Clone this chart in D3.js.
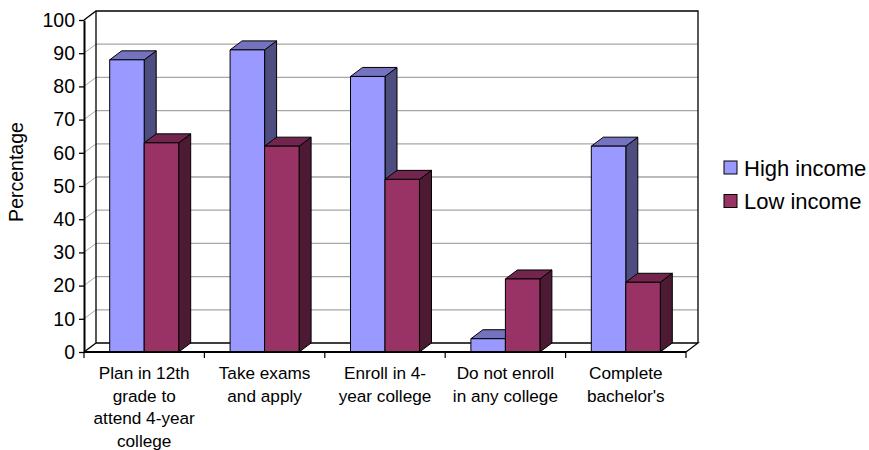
<!DOCTYPE html>
<html>
<head>
<meta charset="utf-8">
<script src="https://cdn.jsdelivr.net/npm/d3@7/dist/d3.min.js"></script>
<style>
  html, body { margin: 0; padding: 0; background: #fff; }
  svg { display: block; font-family: "Liberation Sans", Arial, Helvetica, sans-serif; }
</style>
</head>
<body>
<script>
// Outcomes by family income
const categories = [
  "Plan in 12th grade to attend 4-year college",
  "Take exams and apply",
  "Enroll in 4-year college",
  "Do not enroll in any college",
  "Complete bachelor's"
];
const categoryLines = [
  ["Plan in 12th", "grade to", "attend 4-year", "college"],
  ["Take exams", "and apply"],
  ["Enroll in 4-", "year college"],
  ["Do not enroll", "in any college"],
  ["Complete", "bachelor's"]
];
const seriesNames = ["High income", "Low income"];
const highIncome = [88, 91, 83, 4, 62];
const lowIncome = [63, 62, 52, 22, 21];
const yTicks = [0, 10, 20, 30, 40, 50, 60, 70, 80, 90, 100];
const yTitle = "Percentage";

const W = 869, H = 450;
const svg = d3.select("body").append("svg").attr("width", W).attr("height", H);

// 3D depth offset of the plot box
const dx = 12, dy = -9;
const x0 = d3.scaleBand().domain(categories).range([84, 686]).padding(0);
const x1 = d3.scaleBand().domain(seriesNames).range([0, x0.bandwidth()])
  .paddingInner(0).paddingOuter(0.745);
const y = d3.scaleLinear().domain([0, 100]).range([352, 20]);
const [xL, xR] = x0.range();
const yB = y(0), yT = y(100);

const colors = {
  "High income": { front: "#9999ff", top: "#7373bf", side: "#4d4d80" },
  "Low income":  { front: "#993366", top: "#73264d", side: "#4d1a33" }
};

// back wall grid lines and left-wall diagonals
const grid = svg.append("g");
yTicks.filter(v => v > 0 && v < 100).forEach(v => {
  grid.append("line").attr("x1", xL + dx).attr("x2", xR + dx)
    .attr("y1", y(v) + dy).attr("y2", y(v) + dy)
    .attr("stroke", "#a6a6a6").attr("stroke-width", 1.3);
  grid.append("line").attr("x1", xL).attr("x2", xL + dx)
    .attr("y1", y(v)).attr("y2", y(v) + dy)
    .attr("stroke", "#a6a6a6").attr("stroke-width", 1);
});

// box edges
const box = svg.append("g").attr("fill", "none").attr("stroke", "#000");
box.append("path").attr("stroke-width", 1.3)
  .attr("d", `M${xL},${yT}L${xL + dx},${yT + dy}L${xR + dx},${yT + dy}L${xR + dx},${yB + dy}`);
box.append("path").attr("stroke-width", 1.3)
  .attr("d", `M${xL + dx},${yT + dy}L${xL + dx},${yB + dy}L${xR + dx},${yB + dy}L${xR},${yB}`);
box.append("path").attr("stroke-width", 1.3)
  .attr("d", `M${xL},${yB}L${xL + dx},${yB + dy}`);

// bars
const rows = categories.map((c, i) => ({ c, vals: [
  { key: seriesNames[0], v: highIncome[i] },
  { key: seriesNames[1], v: lowIncome[i] }
]}));
const bars = svg.append("g").attr("stroke", "#000").attr("stroke-width", 1).attr("stroke-linejoin", "round");
rows.forEach(r => {
  r.vals.forEach(d => {
    const a = x0(r.c) + x1(d.key), b = a + x1.bandwidth();
    const t = y(d.v);
    const col = colors[d.key];
    bars.append("path").attr("fill", col.side)
      .attr("d", `M${b},${t}L${b + dx},${t + dy}L${b + dx},${yB + dy}L${b},${yB}Z`);
    bars.append("path").attr("fill", col.top)
      .attr("d", `M${a},${t}L${a + dx},${t + dy}L${b + dx},${t + dy}L${b},${t}Z`);
    bars.append("rect").attr("fill", col.front)
      .attr("x", a).attr("y", t).attr("width", b - a).attr("height", yB - t);
  });
});

// y axis
const yAxis = svg.append("g").attr("transform", `translate(${xL},0)`)
  .call(d3.axisLeft(y).tickValues(yTicks).tickSize(5).tickSizeOuter(0).tickPadding(4));
yAxis.select(".domain").attr("stroke-width", 2);
yAxis.selectAll(".tick line").attr("stroke-width", 1.3);
yAxis.selectAll("text").attr("font-size", 19.5).attr("fill", "#000")
  .attr("font-family", "'Liberation Sans', Arial, sans-serif");

// x axis floor line and boundary ticks
const xAxis = svg.append("g");
xAxis.append("line").attr("x1", xL).attr("x2", xR).attr("y1", yB).attr("y2", yB)
  .attr("stroke", "#000").attr("stroke-width", 2.2);
const bounds = categories.map(c => x0(c)).concat([xR]);
xAxis.selectAll("line.tk").data(bounds).join("line").attr("class", "tk")
  .attr("x1", d => d).attr("x2", d => d).attr("y1", yB).attr("y2", yB + 6)
  .attr("stroke", "#000").attr("stroke-width", 1.2);

// category labels
categories.forEach((c, i) => {
  const t = svg.append("text").attr("text-anchor", "middle")
    .attr("font-size", 17.2).attr("fill", "#000");
  categoryLines[i].forEach((ln, j) => {
    t.append("tspan").attr("x", x0(c) + x0.bandwidth() / 2).attr("y", 379 + j * 22.7).text(ln);
  });
});

// y title
svg.append("text").attr("transform", `translate(23,172) rotate(-90)`)
  .attr("text-anchor", "middle").attr("font-size", 19.5).attr("fill", "#000").text(yTitle);

// legend
const legend = svg.append("g").attr("transform", "translate(724,161)");
seriesNames.forEach((s, i) => {
  const g = legend.append("g").attr("transform", `translate(0,${i * 33.5})`);
  g.append("rect").attr("width", 13).attr("height", 13)
    .attr("fill", colors[s].front).attr("stroke", "#000").attr("stroke-width", 1);
  g.append("text").attr("x", 20).attr("y", 14.5).attr("font-size", 22).attr("fill", "#000").text(s);
});
</script>
</body>
</html>
